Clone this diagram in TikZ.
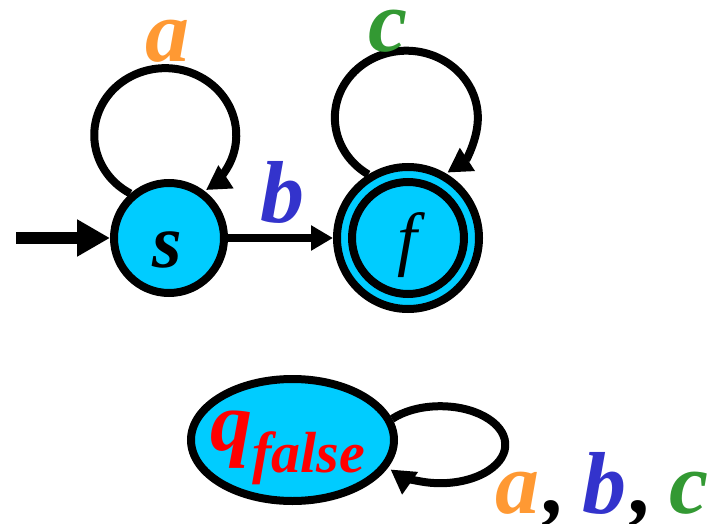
\documentclass[tikz,border=0pt]{standalone}
\usepackage{fontspec}
\setmainfont{Liberation Serif}
\usetikzlibrary{arrows.meta,shapes.geometric}
\definecolor{cfill}{HTML}{00CCFF}
\definecolor{corange}{HTML}{FF9933}
\definecolor{cblue}{HTML}{3333CC}
\definecolor{cgreen}{HTML}{339933}
\begin{document}
\begin{tikzpicture}[x=1pt,y=-1pt,
  state/.style={circle,draw=black,fill=cfill,line width=8pt,inner sep=0pt},
  lbl/.style={font=\fontsize{88}{88}\selectfont\bfseries\itshape, inner sep=0pt, anchor=base},
  loopedge/.style={draw, line width=8pt, -{Triangle[length=24pt,width=26pt]}},
  stepedge/.style={draw, line width=8pt, -{Triangle[length=22pt,width=24pt]}},
  initedge/.style={draw, line width=12pt, -{Triangle[length=33pt,width=35pt]}},
]
\useasboundingbox (0,0) rectangle (717,524);
\node[state, minimum size=110pt] (s) at (169,238) {};
\node[state, minimum size=142pt] (f) at (408,238) {};
\node[state, minimum size=112pt] (fin) at (408,238) {};
\node[ellipse, draw=black, fill=cfill, line width=8pt, minimum width=203pt, minimum height=122pt, inner sep=0pt] (q) at (292.5,440) {};
\coordinate (init) at (16,238);
\draw[initedge] (init) -- (s);
\draw[stepedge] (s) -- (f);
\draw[loopedge] (s.131) arc[start angle=119.5, end angle=415, x radius=71, y radius=67];
\draw[loopedge] (f.122) arc[start angle=122.2, end angle=415, x radius=71.5, y radius=67];
\draw[loopedge] (q.12) arc[start angle=222.3, end angle=500, x radius=65, y radius=38.5];
\node[lbl, text=corange] (la) at (167,62) {a};
\node[lbl, text=cblue] (lb) at (282,222) {b};
\node[lbl, text=cgreen] (lc) at (388,52) {c};
\node[inner sep=0pt, anchor=base, font=\fontsize{76}{76}\selectfont\bfseries\itshape] (ls) at (167,267) {s};
\node[inner sep=0pt, anchor=base, font=\fontsize{71}{71}\selectfont\itshape] (lf) at (407,262) {f};
\node[anchor=base west, inner sep=0pt, text=red] (ql) at (210,450) {{\fontsize{84}{84}\selectfont\bfseries\itshape q}\raisebox{-22pt}{\fontsize{58}{58}\selectfont\bfseries\itshape false}};
\node[anchor=base west, inner sep=0pt, font=\fontsize{88}{88}\selectfont\bfseries\itshape] (lab) at (495,513) {\textcolor{corange}{a}\kern5pt,\kern16pt\textcolor{cblue}{b}\kern5pt,\kern16pt\textcolor{cgreen}{c}};
\end{tikzpicture}
\end{document}
